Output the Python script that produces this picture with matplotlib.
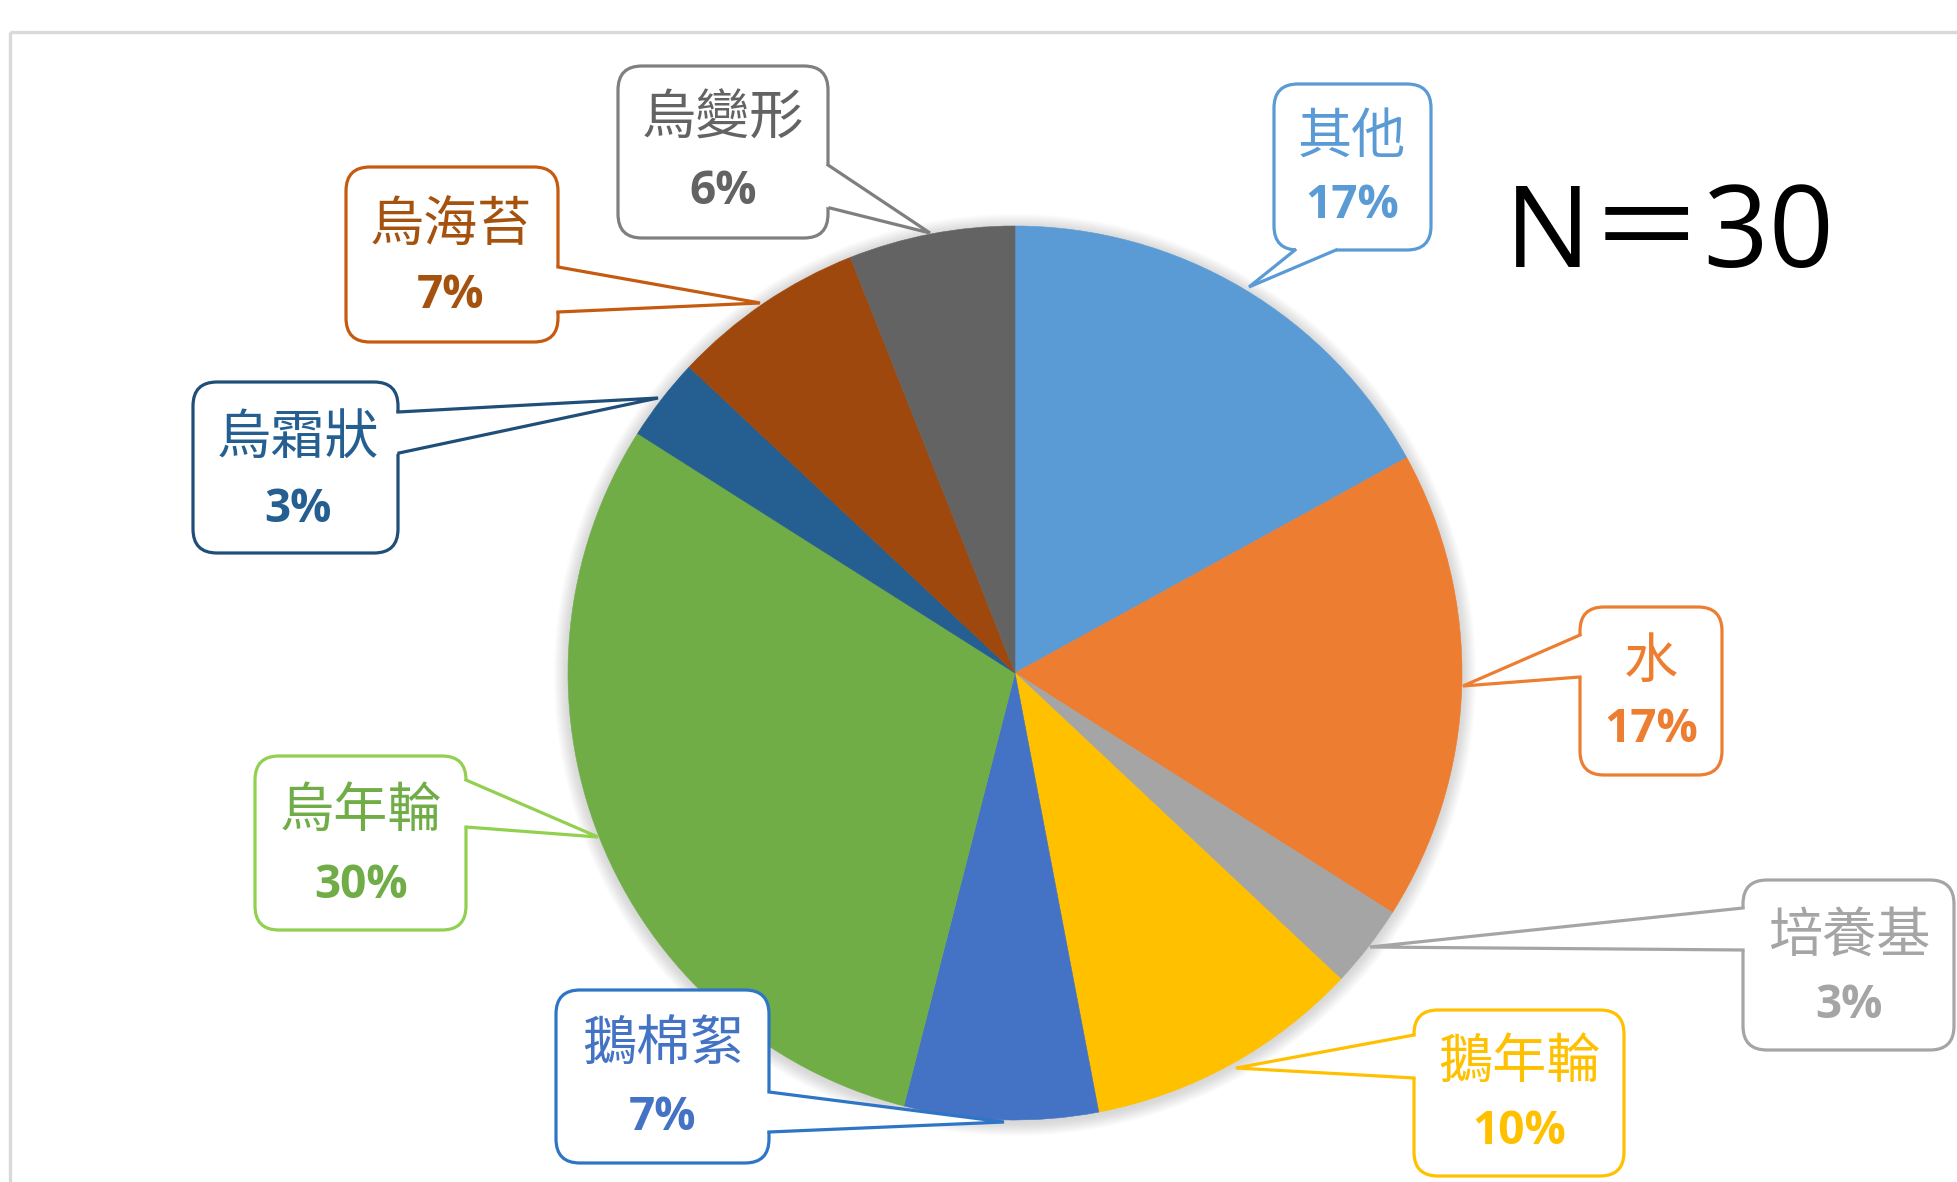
import matplotlib
matplotlib.use("Agg")
import matplotlib.pyplot as plt
from matplotlib.patches import FancyBboxPatch, Polygon, Circle, Rectangle

# ---- data ----
categories = ["其他", "水", "培養基", "鵝年輪", "鵝棉絮", "烏年輪", "烏霜狀", "烏海苔", "烏變形"]
percent = [17, 17, 3, 10, 7, 30, 3, 7, 6]
sample_size = 30

# ---- style ----
slice_colors = ["#5B9BD5", "#ED7D31", "#A5A5A5", "#FFC000", "#4472C4",
                "#70AD47", "#255E91", "#9E480E", "#636363"]
border_colors = ["#5B9BD5", "#ED7D31", "#A5A5A5", "#FFC000", "#2E75C6",
                 "#92D050", "#1F4E79", "#C55A11", "#7F7F7F"]
text_colors = ["#5B9BD5", "#ED7D31", "#A5A5A5", "#FFC000", "#4472C4",
               "#70AD47", "#255E91", "#A5520F", "#636363"]

# callout geometry in pixels: box (x0, y0, x1, y1), tail base points, tail tip,
# text centre x, label y, percentage y
callouts = [
    ((1274, 84, 1431, 250), (1295, 250), (1336, 250), (1249, 287), 1352, 137, 205),
    ((1580, 607, 1722, 775), (1580, 635), (1580, 677), (1463, 686), 1651, 662, 730),
    ((1743, 880, 1954, 1050), (1743, 908), (1743, 950), (1370, 947), 1849, 937, 1006),
    ((1414, 1010, 1624, 1176), (1414, 1035), (1414, 1078), (1236, 1068), 1519, 1062, 1131),
    ((556, 990, 769, 1163), (769, 1092), (769, 1132), (1004, 1122), 663, 1044, 1118),
    ((255, 756, 466, 930), (466, 780), (466, 827), (598, 837), 361, 811, 886),
    ((193, 382, 398, 553), (398, 412), (399, 453), (658, 398), 298, 438, 510),
    ((346, 167, 558, 342), (558, 267), (558, 312), (760, 303), 451, 226, 295),
    ((618, 66, 828, 238), (828, 165), (830, 208), (930, 233), 723, 119, 191),
]

W, H = 1958, 1182
fig = plt.figure(figsize=(W / 100, H / 100), dpi=100)
ax = fig.add_axes([0, 0, 1, 1])

cx, cy, r = 1015, 673, 447

# soft shadow around the pie
for k in range(1, 15):
    ax.add_patch(Circle((cx, cy + 2), r + k, color="#7a7a7a", alpha=0.018,
                        lw=0, zorder=1))

# y axis is inverted below, so startangle=-90 puts the first slice at 12 o'clock
# and counterclock=True runs clockwise on screen
wedges, _ = ax.pie(percent, colors=slice_colors, startangle=-90,
                   counterclock=True, center=(cx, cy), radius=r,
                   wedgeprops=dict(linewidth=0.4, zorder=2))
for w, c in zip(wedges, slice_colors):
    w.set_edgecolor(c)

ax.set_xlim(0, W)
ax.set_ylim(H, 0)
ax.set_aspect("auto")
ax.axis("off")

# outer frame
ax.add_patch(Rectangle((10, 32), 3000, 3000, fill=False, ec="#D9D9D9",
                       lw=2.4, zorder=0))

lw = 2.3
for i, (box, b1, b2, tip, tx, ly, py) in enumerate(callouts):
    x0, y0, x1, y1 = box
    ec = border_colors[i]
    ax.add_patch(FancyBboxPatch((x0, y0), x1 - x0, y1 - y0,
                                boxstyle="round,pad=0,rounding_size=24",
                                fc="white", ec=ec, lw=lw, zorder=4))
    # tail: white fill covering the box border at its base, then two edges
    mx, my = (b1[0] + b2[0]) / 2, (b1[1] + b2[1]) / 2
    bx, by = (x0 + x1) / 2 - mx, (y0 + y1) / 2 - my
    n = (bx ** 2 + by ** 2) ** 0.5
    ix, iy = bx / n * 5, by / n * 5
    ax.add_patch(Polygon([(b1[0] + ix, b1[1] + iy), b1, tip, b2,
                          (b2[0] + ix, b2[1] + iy)],
                         closed=True, fc="white", ec="none", zorder=5))
    ax.plot([b1[0], tip[0], b2[0]], [b1[1], tip[1], b2[1]], color=ec, lw=lw,
            solid_joinstyle="miter", zorder=5.5)
    ax.text(tx, ly, categories[i], fontsize=39, family=["Noto Sans CJK TC"],
            color=text_colors[i], ha="center", va="center", zorder=6)
    ax.text(tx, py, f"{percent[i]}%", fontsize=33, family=["Open Sans"],
            weight="bold", color=text_colors[i], ha="center", va="center",
            zorder=6)

ax.text(1670, 237, f"N＝{sample_size}", fontsize=82,
        family=["Open Sans", "Noto Sans CJK TC"], color="black",
        ha="center", va="center", zorder=6)

fig.savefig("out.png", dpi=100, facecolor="white")
